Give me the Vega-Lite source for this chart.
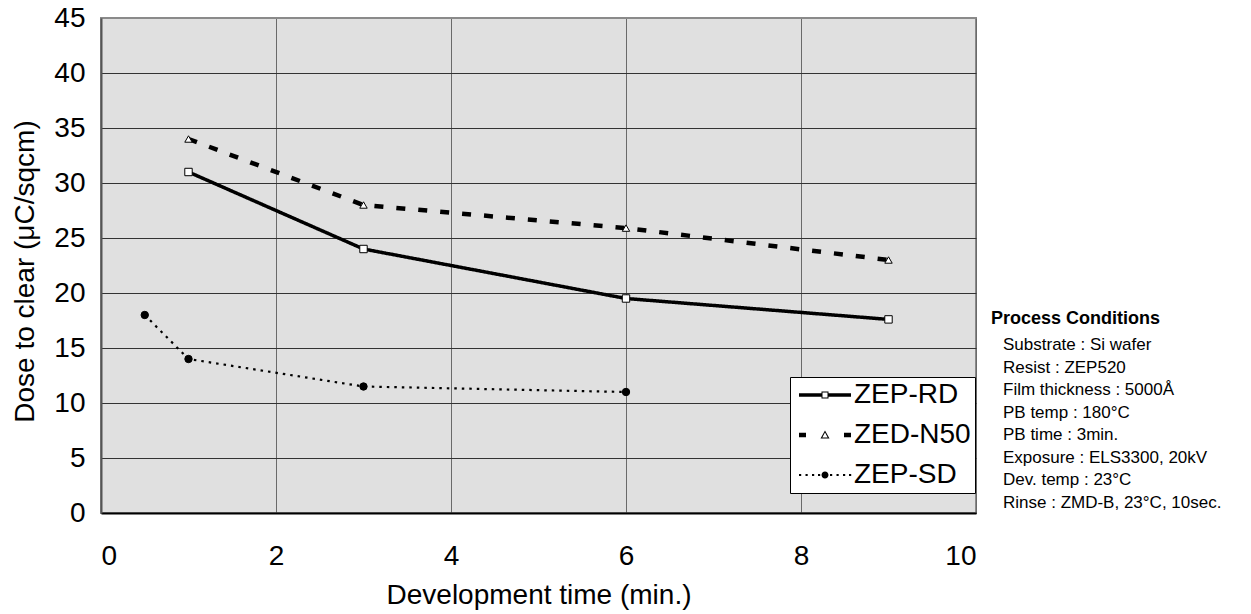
{
  "$schema": "https://vega.github.io/schema/vega-lite/v6.json",
  "width": 875,
  "height": 495,
  "autosize": {"type": "none"},
  "padding": {"left": 101, "top": 18, "right": 275, "bottom": 101},
  "background": "white",
  "config": {
    "font": "Liberation Sans",
    "view": {"fill": "#e0e0e0", "stroke": "#8a8a8a", "strokeWidth": 2},
    "axis": {
      "ticks": false,
      "tickSize": 0,
      "labelFontSize": 28,
      "labelColor": "black",
      "labelFont": "Liberation Sans",
      "titleFontSize": 28,
      "titleFontWeight": "normal",
      "titleColor": "black",
      "titleFont": "Liberation Sans",
      "grid": true,
      "gridWidth": 1,
      "format": "d"
    }
  },
  "datasets": {
    "measurements": [
      {"series": "ZEP-RD", "time": 1, "dose": 31},
      {"series": "ZEP-RD", "time": 3, "dose": 24},
      {"series": "ZEP-RD", "time": 6, "dose": 19.5},
      {"series": "ZEP-RD", "time": 9, "dose": 17.6},
      {"series": "ZED-N50", "time": 1, "dose": 34},
      {"series": "ZED-N50", "time": 3, "dose": 28},
      {"series": "ZED-N50", "time": 6, "dose": 25.9},
      {"series": "ZED-N50", "time": 9, "dose": 23},
      {"series": "ZEP-SD", "time": 0.5, "dose": 18},
      {"series": "ZEP-SD", "time": 1, "dose": 14},
      {"series": "ZEP-SD", "time": 3, "dose": 11.5},
      {"series": "ZEP-SD", "time": 6, "dose": 11}
    ],
    "conditions": [
      {
        "heading": "Process Conditions",
        "lines": [
          "Substrate : Si wafer",
          "Resist : ZEP520",
          "Film thickness : 5000Å",
          "PB temp : 180°C",
          "PB time : 3min.",
          "Exposure : ELS3300, 20kV",
          "Dev. temp : 23°C",
          "Rinse : ZMD-B, 23°C, 10sec."
        ]
      }
    ]
  },
  "resolve": {"scale": {"shape": "independent"}, "legend": {"shape": "independent"}},
  "layer": [
    {
      "data": {"name": "measurements"},
      "mark": {"type": "line", "color": "black"},
      "encoding": {
        "x": {
          "field": "time",
          "type": "quantitative",
          "scale": {"domain": [0, 10], "nice": false},
          "axis": {
            "values": [0, 2, 4, 6, 8, 10],
            "labelPadding": 29,
            "gridColor": "#6a6a6a",
            "domainColor": "black",
            "domainWidth": 2,
            "title": "Development time (min.)",
            "titleY": 68
          }
        },
        "y": {
          "field": "dose",
          "type": "quantitative",
          "scale": {"domain": [0, 45], "nice": false},
          "axis": {
            "values": [0, 5, 10, 15, 20, 25, 30, 35, 40, 45],
            "labelPadding": 16,
            "gridColor": {"condition": {"test": "datum.value == 45", "value": "#8a8a8a"}, "value": "#333333"},
            "domainColor": "#555555",
            "domainWidth": 2,
            "title": "Dose to clear (μC/sqcm)",
            "titleX": -76,
            "titleY": 253,
            "titleBaseline": "middle",
            "titleAlign": "center"
          }
        },
        "strokeDash": {
          "field": "series",
          "type": "nominal",
          "scale": {"domain": ["ZEP-RD", "ZED-N50", "ZEP-SD"], "range": [[1, 0], [9, 13], [2.5, 5]]},
          "legend": null
        },
        "strokeWidth": {
          "field": "series",
          "type": "nominal",
          "scale": {"type": "ordinal", "domain": ["ZEP-RD", "ZED-N50", "ZEP-SD"], "range": [3.5, 4.5, 2.2]},
          "legend": null
        }
      }
    },
    {
      "data": {"name": "measurements"},
      "mark": {"type": "point", "filled": true, "stroke": "black", "strokeWidth": 1, "opacity": 1, "size": 55},
      "encoding": {
        "x": {"field": "time", "type": "quantitative"},
        "y": {"field": "dose", "type": "quantitative"},
        "shape": {
          "field": "series",
          "type": "nominal",
          "scale": {"domain": ["ZEP-RD", "ZED-N50", "ZEP-SD"], "range": ["square", "triangle-up", "circle"]},
          "legend": null
        },
        "fill": {
          "field": "series",
          "type": "nominal",
          "scale": {"domain": ["ZEP-RD", "ZED-N50", "ZEP-SD"], "range": ["white", "white", "black"]},
          "legend": null
        }
      }
    },
    {
      "data": {"name": "measurements"},
      "mark": {"type": "point", "filled": true, "color": "black", "opacity": 0},
      "encoding": {
        "x": {"field": "time", "type": "quantitative"},
        "y": {"field": "dose", "type": "quantitative"},
        "shape": {
          "field": "series",
          "type": "nominal",
          "scale": {
            "domain": ["ZEP-RD", "ZED-N50", "ZEP-SD"],
            "range": [
              "M-9,-1.75H13.5V1.75H-9Z M20.5,-1.75H43V1.75H20.5Z M13.5,-3.5H20.5V3.5H13.5Z M14.5,-2.5V2.5H19.5V-2.5Z",
              "M-9,-2.25H-2V2.25H-9Z M36,-2.25H43V2.25H36Z M17,-4.5L21.5,3.5L12.5,3.5Z M17,-2.4L14.3,2.5L19.7,2.5Z",
              "M-9,-0.9h2.2v1.8h-2.2Z M-2.5,-0.9h2.2v1.8h-2.2Z M4,-0.9h2.2v1.8h-2.2Z M10,-0.9h2.2v1.8h-2.2Z M22,-0.9h2.2v1.8h-2.2Z M28.5,-0.9h2.2v1.8h-2.2Z M35,-0.9h2.2v1.8h-2.2Z M41,-0.9h2.2v1.8h-2.2Z M13.5,0A3.5,3.5 0 1 0 20.5,0A3.5,3.5 0 1 0 13.5,0Z"
            ]
          },
          "legend": {
            "orient": "none", "legendX": 689, "legendY": 359, "title": null,
            "symbolSize": 4, "symbolOpacity": 1, "symbolFillColor": "black",
            "symbolStrokeWidth": 0, "symbolStrokeColor": "transparent",
            "labelFont": "Liberation Sans Narrow, Liberation Sans", "labelFontSize": 28, "labelColor": "black",
            "labelOffset": 32, "fillColor": "white", "strokeColor": "black", "padding": 4, "rowPadding": 12
          }
        }
      }
    },
    {
      "data": {"name": "conditions"},
      "mark": {"type": "text", "align": "left", "baseline": "middle", "dx": 15, "fontSize": 18, "fontWeight": "bold", "color": "black", "font": "Liberation Sans"},
      "encoding": {
        "x": {"datum": 10, "type": "quantitative"},
        "y": {"datum": 17.6, "type": "quantitative"},
        "text": {"field": "heading"}
      }
    },
    {
      "data": {"name": "conditions"},
      "mark": {"type": "text", "align": "left", "baseline": "top", "dx": 27, "fontSize": 17, "lineHeight": 22.5, "color": "black", "font": "Liberation Sans"},
      "encoding": {
        "x": {"datum": 10, "type": "quantitative"},
        "y": {"datum": 16, "type": "quantitative"},
        "text": {"field": "lines"}
      }
    }
  ]
}
